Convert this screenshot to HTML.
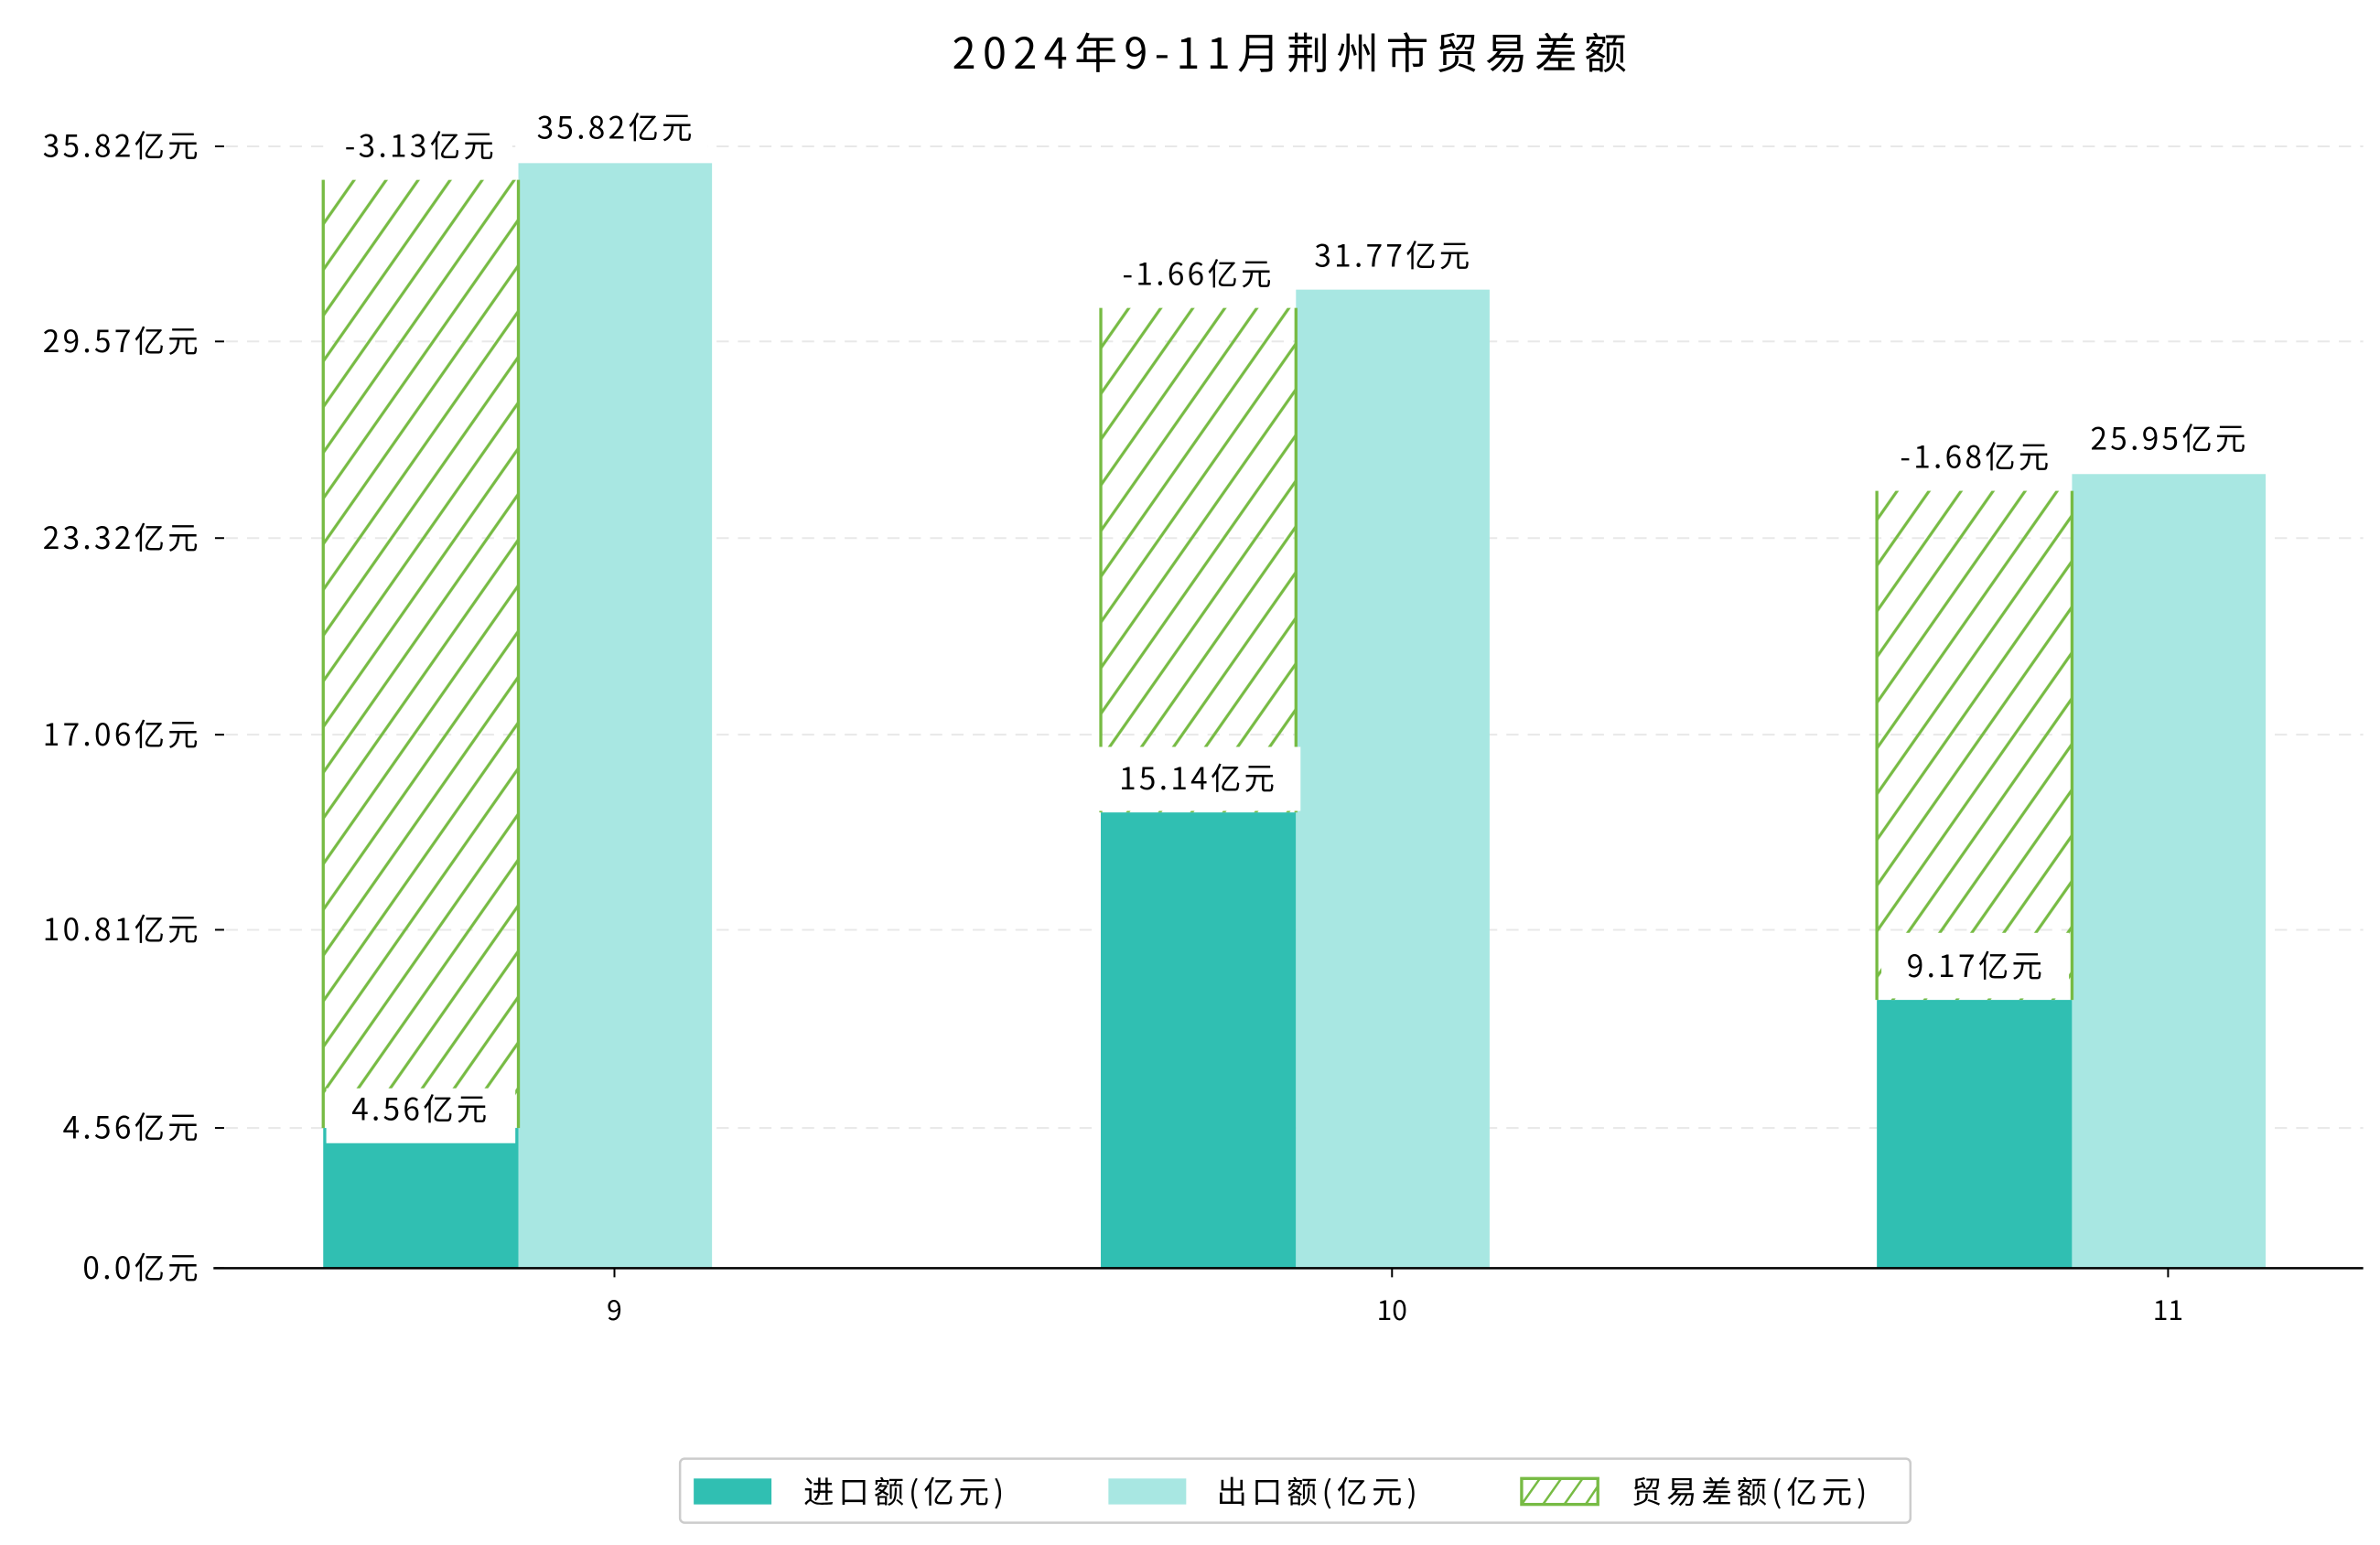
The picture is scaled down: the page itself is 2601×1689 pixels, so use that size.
<!DOCTYPE html>
<html><head><meta charset="utf-8"><style>
html,body{margin:0;padding:0;background:#fff;}
svg{display:block;}
text{font-family:"Noto Sans CJK SC","Liberation Sans",sans-serif;fill:#000;}
</style></head><body>
<svg width="2601" height="1689" viewBox="0 0 1561 1013.6" xmlns="http://www.w3.org/2000/svg">
<defs>
<pattern id="h" patternUnits="userSpaceOnUse" x="0" y="0" width="20" height="17.2" patternTransform="rotate(-55)">
<line x1="-5" y1="0" x2="25" y2="0" stroke="#77bb44" stroke-width="2"/>
<line x1="-5" y1="17.2" x2="25" y2="17.2" stroke="#77bb44" stroke-width="2"/>
</pattern>
</defs>
<text x="848" y="45" font-size="28" letter-spacing="4.5" text-anchor="middle">2024年9-11月荆州市贸易差额</text>
<g stroke="#e8e8e8" stroke-dasharray="8,6" stroke-width="1.2">
<line x1="148" y1="96" x2="1550" y2="96"/><line x1="148" y1="224" x2="1550" y2="224"/>
<line x1="148" y1="353" x2="1550" y2="353"/><line x1="148" y1="482" x2="1550" y2="482"/>
<line x1="148" y1="610" x2="1550" y2="610"/><line x1="148" y1="740" x2="1550" y2="740"/>
</g>
<g font-size="20" letter-spacing="2" text-anchor="end">
<text x="132" y="103">35.82亿元</text><text x="132" y="231">29.57亿元</text>
<text x="132" y="360">23.32亿元</text><text x="132" y="489">17.06亿元</text>
<text x="132" y="617">10.81亿元</text><text x="132" y="747">4.56亿元</text>
<text x="132" y="839">0.0亿元</text>
</g>
<g stroke="#000" stroke-width="1.2">
<line x1="141" y1="96" x2="147" y2="96"/><line x1="141" y1="224" x2="147" y2="224"/>
<line x1="141" y1="353" x2="147" y2="353"/><line x1="141" y1="482" x2="147" y2="482"/>
<line x1="141" y1="610" x2="147" y2="610"/><line x1="141" y1="740" x2="147" y2="740"/>
<line x1="141" y1="832" x2="147" y2="832"/>
<line x1="403" y1="832" x2="403" y2="838"/><line x1="913" y1="832" x2="913" y2="838"/><line x1="1422" y1="832" x2="1422" y2="838"/>
</g>
<rect x="212" y="740" width="128" height="92" fill="#30bfb2"/>
<rect x="340" y="107" width="127" height="725" fill="#a8e7e2"/>
<rect x="722" y="533" width="128" height="299" fill="#30bfb2"/>
<rect x="850" y="190" width="127" height="642" fill="#a8e7e2"/>
<rect x="1231" y="656" width="128" height="176" fill="#30bfb2"/>
<rect x="1359" y="311" width="127" height="521" fill="#a8e7e2"/>
<rect x="212" y="118" width="128" height="622" fill="url(#h)"/>
<line x1="212" y1="118" x2="212" y2="740" stroke="#77bb44" stroke-width="2"/><line x1="340" y1="118" x2="340" y2="740" stroke="#77bb44" stroke-width="2"/>
<rect x="722" y="202" width="128" height="331" fill="url(#h)"/>
<line x1="722" y1="202" x2="722" y2="533" stroke="#77bb44" stroke-width="2"/><line x1="850" y1="202" x2="850" y2="533" stroke="#77bb44" stroke-width="2"/>
<rect x="1231" y="322" width="128" height="334" fill="url(#h)"/>
<line x1="1231" y1="322" x2="1231" y2="656" stroke="#77bb44" stroke-width="2"/><line x1="1359" y1="322" x2="1359" y2="656" stroke="#77bb44" stroke-width="2"/>
<line x1="140" y1="832" x2="1550" y2="832" stroke="#000" stroke-width="1.5"/>
<g fill="#fff">
<rect x="214" y="80" width="122" height="37"/><rect x="342" y="68" width="122" height="37"/>
<rect x="214" y="714" width="124" height="36"/>
<rect x="724" y="164" width="122" height="37"/><rect x="852" y="152" width="122" height="37"/>
<rect x="716" y="490" width="137" height="42"/>
<rect x="1234" y="284" width="122" height="37"/><rect x="1361" y="272" width="122" height="37"/>
<rect x="1234" y="612" width="123" height="43"/>
</g>
<g font-size="20" letter-spacing="2" text-anchor="middle">
<text x="276" y="103">-3.13亿元</text><text x="404" y="91">35.82亿元</text>
<text x="276" y="735">4.56亿元</text>
<text x="786" y="187">-1.66亿元</text><text x="914" y="175">31.77亿元</text>
<text x="786" y="518">15.14亿元</text>
<text x="1296" y="307">-1.68亿元</text><text x="1423" y="295">25.95亿元</text>
<text x="1296" y="641">9.17亿元</text>
<text x="403" y="866" font-size="18" letter-spacing="0">9</text><text x="913" y="866" font-size="18" letter-spacing="0">10</text><text x="1422" y="866" font-size="18" letter-spacing="0">11</text>
</g>
<rect x="446" y="957" width="807" height="42" fill="#fff" stroke="#ccc" stroke-width="1.5" rx="3"/>
<rect x="455" y="970" width="51" height="17" fill="#30bfb2"/>
<text x="527" y="986" font-size="20" letter-spacing="3">进口额(亿元)</text>
<rect x="727" y="970" width="51" height="17" fill="#a8e7e2"/>
<text x="798" y="986" font-size="20" letter-spacing="3">出口额(亿元)</text>
<rect x="998" y="970" width="50" height="17" fill="#fff" stroke="#77bb44" stroke-width="2"/>
<g stroke="#77bb44" stroke-width="1.5"><line x1="998" y1="987" x2="1010" y2="970"/><line x1="1012" y1="987" x2="1024" y2="970"/><line x1="1026" y1="987" x2="1038" y2="970"/><line x1="1040" y1="987" x2="1048" y2="975"/></g>
<text x="1070" y="986" font-size="20" letter-spacing="3">贸易差额(亿元)</text>
</svg>
</body></html>
